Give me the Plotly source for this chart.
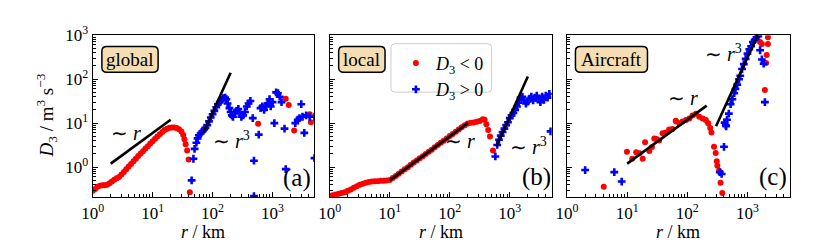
import plotly.graph_objects as go

# page body has an 8px default margin, so the figure is drawn 8px in from the top-left corner
OFF = 8
W, H = 830 - OFF, 244 - OFF

# ---------------- data ----------------
# panel (a) global
a_neg_r = [1.00, 1.10, 1.20, 1.32, 1.45, 1.58, 1.74, 1.91, 2.09, 2.29, 2.51, 2.75, 3.02, 3.31,
           3.63, 3.98, 4.37, 4.79, 5.25, 5.75, 6.31, 6.92, 7.59, 8.32, 9.12, 10.0, 11.0, 12.0,
           13.2, 14.5, 15.8, 17.4, 19.1, 20.9, 22.9, 25.1, 27.5, 30.2, 32.4, 33.9, 35.5, 37.6,
           39.8, 41.7,
           575, 1660, 1862, 2291, 4169, 4365]
a_neg_D = [0.29, 0.32, 0.36, 0.38, 0.39, 0.39, 0.40, 0.43, 0.47, 0.52, 0.56, 0.60, 0.68, 0.78,
           0.90, 1.03, 1.18, 1.36, 1.56, 1.80, 2.05, 2.30, 2.65, 3.0, 3.45, 3.9, 4.4, 5.0,
           5.6, 6.3, 7.0, 7.5, 7.9, 8.0, 8.0, 7.8, 7.3, 6.5, 5.4, 4.3, 3.3, 2.4,
           1.5, 0.27,
           9.7, 36, 26, 6.8, 16, 10.5]
a_pos_r = [44.7, 47.9, 50.1, 53.7, 56.2, 58.9, 63.1, 67.6, 72.4, 75.9, 81.3, 87.1, 93.3, 100,
           107, 115, 123, 132, 141, 151, 162, 170, 178, 191, 200, 209, 219, 234, 251, 269,
           282, 302, 324, 347, 372, 398, 427, 468, 490, 490, 589, 631, 676, 724, 776, 832,
           891, 933, 1000, 1072, 1148, 1230, 1318, 1413, 1585, 1660, 2399, 2630, 2818, 3020,
           3162, 3388, 3631, 4169, 5012, 5012]
a_pos_D = [0.5, 1.55, 2.6, 3.6, 4.5, 5.3, 5.8, 6.5, 7.2, 7.8, 9.0, 11, 13.5, 16,
           19, 23, 27, 30, 34, 37, 38, 35, 28, 22, 18, 15, 14, 17, 19, 21,
           17, 14, 15, 18, 24, 28, 32, 13, 1.4, 0.22, 5.5, 22, 24, 20, 25, 28,
           35, 24, 30, 10, 50, 48, 40, 30, 7.5, 0.9, 10, 12, 13, 27,
           14, 6, 15, 14, 14, 1.6]
a_lin_r, a_lin_D = [2, 20], [1.2, 12]
a_cub_r, a_cub_D = [70, 200], [6.0, 140]

# panel (b) local
b_neg_r = [1.00, 1.12, 1.26, 1.41, 1.58, 1.78, 2.00, 2.24, 2.51, 2.82, 3.16, 3.55, 3.98, 4.47,
           5.01, 5.62, 6.31, 7.08, 7.94, 8.91, 10.0, 11.2, 12.6, 14.1, 15.8, 17.8, 20.0, 22.4,
           25.1, 28.2, 31.6, 35.5, 39.8, 44.7, 50.1, 56.2, 63.1, 70.8, 79.4, 89.1, 100, 112,
           126, 141, 158, 178, 200, 224, 251, 282, 316, 355, 380, 407, 437, 468, 525]
b_neg_D = [0.22, 0.23, 0.24, 0.25, 0.26, 0.27, 0.29, 0.31, 0.34, 0.37, 0.40, 0.42, 0.44, 0.46,
           0.47, 0.48, 0.48, 0.49, 0.49, 0.50, 0.51, 0.57, 0.63, 0.71, 0.80, 0.90, 1.00, 1.13,
           1.27, 1.42, 1.6, 1.78, 2.0, 2.25, 2.5, 2.85, 3.2, 3.6, 4.0, 4.5, 5.1, 5.7,
           6.4, 7.2, 8.1, 9.0, 9.8, 10.2, 10.3, 10.8, 11.2, 12.3, 12.0, 9.5, 7.0, 5.0, 2.4]
b_pos_r = [575, 617, 661, 708, 759, 813, 871, 933, 1000, 1072, 1148, 1230, 1318, 1413, 1514,
           1622, 1738, 1862, 1995, 2138, 2291, 2455, 2630, 2818, 3020, 3236, 3467, 3715, 3981,
           4266, 4571, 4786]
b_pos_D = [1.75, 3.2, 4.2, 5.2, 6.3, 7.5, 9, 10.5, 13, 15, 17, 20, 24, 29, 38,
           40, 33, 28, 31, 36, 40, 33, 38, 42, 36, 30, 40, 34, 42,
           38, 46, 6.5]
b_lin_r, b_lin_D = [10, 200], [0.5, 10]
b_cub_r, b_cub_D = [600, 2000], [3.0, 115]

# panel (c) aircraft
c_neg_r = [4.07, 9.9, 12.1, 14.1, 16.0, 18.1, 19.8, 23.3, 25.8, 28.2, 30.8, 34.0, 38.7, 43.9,
           49.8, 56.6, 64.1, 65, 74, 83, 95, 108, 122, 139, 158, 180, 203, 222, 240, 252,
           278, 296, 309, 316, 337, 357, 382, 1622, 1738, 1950, 2042, 2089, 2188, 2188]
c_neg_D = [0.36, 2.25, 1.56, 2.18, 2.07, 1.56, 3.70, 2.33, 2.88, 4.5, 4.38, 4.02, 5.9, 6.1,
           7.2, 7.4, 11.4, 10.9, 10, 10.9, 11.8, 12.8, 15, 16.4, 13.9, 12.8, 11.8, 10, 7.8, 6.1,
           2.9, 2.1, 1.37, 1.07, 0.83, 0.44, 0.26, 700, 630, 57, 234, 355, 630, 900]
c_pos_r = [2.0, 6.1, 8.1, 347, 372, 407, 417, 437, 442, 457, 490, 525, 562, 603, 631, 676,
           724, 759, 813, 871, 933, 1000, 1072, 1148, 1230, 1318, 1413, 1514, 1622, 1738,
           1862, 1950]
c_pos_D = [0.86, 0.77, 0.47, 0.77, 0.70, 2.9, 10.3, 9.0, 8.5, 12, 16.5, 27, 35, 48, 60, 75,
           100, 120, 170, 220, 290, 380, 480, 560, 700, 780, 900, 950, 455, 280,
           225, 30]
c_lin_r, c_lin_D = [10, 210], [1.2, 25]
c_cub_r, c_cub_D = [300, 1480], [8.5, 1000]

x_tick_vals = [1, 10, 100, 1000]
x_tick_text = ["10<sup>0</sup>", "10<sup>1</sup>", "10<sup>2</sup>", "10<sup>3</sup>"]
y_tick_vals = [1, 10, 100, 1000]
y_tick_text = ["10<sup>0</sup>", "10<sup>1</sup>", "10<sup>2</sup>", "10<sup>3</sup>"]
minor_ticks = [m * 10 ** e for e in range(-1, 4) for m in range(2, 10)]

RED = "#ff0000"
BLUE = "#0000ff"
FONT = "Liberation Serif, Times New Roman, serif"

fig = go.Figure()

panels = [
    ("x", "y", a_neg_r, a_neg_D, a_pos_r, a_pos_D, a_lin_r, a_lin_D, a_cub_r, a_cub_D, False),
    ("x2", "y2", b_neg_r, b_neg_D, b_pos_r, b_pos_D, b_lin_r, b_lin_D, b_cub_r, b_cub_D, True),
    ("x3", "y3", c_neg_r, c_neg_D, c_pos_r, c_pos_D, c_lin_r, c_lin_D, c_cub_r, c_cub_D, False),
]
for xa, ya, nr, nd, pr, pd_, lr, ld, cr, cd, leg in panels:
    fig.add_trace(go.Scatter(x=nr, y=nd, mode="markers", xaxis=xa, yaxis=ya,
                             marker=dict(color=RED, size=6, symbol="circle", line=dict(width=0)),
                             name="<i>D</i><sub>3</sub> &lt; 0", showlegend=leg, legendrank=1))
    fig.add_trace(go.Scatter(x=pr, y=pd_, mode="markers", xaxis=xa, yaxis=ya,
                             marker=dict(color=BLUE, size=6.5, symbol="cross", line=dict(width=0)),
                             name="<i>D</i><sub>3</sub> &gt; 0", showlegend=leg, legendrank=2))
    fig.add_trace(go.Scatter(x=lr, y=ld, mode="lines", xaxis=xa, yaxis=ya,
                             line=dict(color="black", width=2.6), showlegend=False))
    fig.add_trace(go.Scatter(x=cr, y=cd, mode="lines", xaxis=xa, yaxis=ya,
                             line=dict(color="black", width=2.6), showlegend=False))


def px2paper(x, y):
    return (x - OFF) / W, 1 - (y - OFF) / H


domains_px = [(82.7, 307.5), (323, 548), (563.5, 789)]
ytop, ybot = 24, 195
ydom = [px2paper(0, ybot)[1], px2paper(0, ytop)[1]]

axis_common = dict(type="log", showline=True, linecolor="black", linewidth=1.2, mirror=True,
                   showgrid=False, zeroline=False, ticks="inside", ticklen=5, tickwidth=1,
                   tickcolor="black", tickmode="array",
                   tickfont=dict(family=FONT, size=17, color="black"))
layout_axes = {}
for i, (l, r) in enumerate(domains_px):
    sfx = "" if i == 0 else str(i + 1)
    layout_axes["xaxis" + sfx] = dict(
        axis_common, domain=[px2paper(l, 0)[0], px2paper(r, 0)[0]], range=[0, 3.7], anchor="y" + sfx,
        tickvals=x_tick_vals, ticktext=x_tick_text,
        minor=dict(ticks="inside", ticklen=3, tickcolor="black", tickwidth=0.8,
                   tickmode="array", tickvals=minor_ticks))
    layout_axes["yaxis" + sfx] = dict(
        axis_common, domain=ydom, range=[-0.69, 3], anchor="x" + sfx,
        tickvals=y_tick_vals, ticktext=y_tick_text, showticklabels=(i == 0),
        minor=dict(ticks="inside", ticklen=3, tickcolor="black", tickwidth=0.8,
                   tickmode="array", tickvals=minor_ticks))

lx, ly = px2paper(390, 34)
fig.update_layout(width=W, height=H, margin=dict(l=0, r=0, t=0, b=0),
                  paper_bgcolor="white", plot_bgcolor="white", **layout_axes,
                  legend=dict(x=lx, y=ly, xanchor="left", yanchor="top",
                              bgcolor="rgba(0,0,0,0)", borderwidth=0,
                              font=dict(family=FONT, size=18, color="black"),
                              itemwidth=30, tracegroupgap=0))


def rounded_rect(x0, y0, x1, y1, rad):
    rx, ry = rad / W, rad / H
    X0, Y0 = px2paper(x0, y0)
    X1, Y1 = px2paper(x1, y1)
    return (f"M {X0+rx},{Y0} L {X1-rx},{Y0} Q {X1},{Y0} {X1},{Y0-ry} "
            f"L {X1},{Y1+ry} Q {X1},{Y1} {X1-rx},{Y1} L {X0+rx},{Y1} "
            f"Q {X0},{Y1} {X0},{Y1+ry} L {X0},{Y0-ry} Q {X0},{Y0} {X0+rx},{Y0} Z")


shapes = []
annotations = []
boxes = [(92, 36, 149, 63, "global"), (332, 36, 379, 63, "local"), (572, 36, 645, 63, "Aircraft")]
for x0, y0, x1, y1, txt in boxes:
    shapes.append(dict(type="path", path=rounded_rect(x0, y0, x1, y1, 5), xref="paper", yref="paper",
                       fillcolor="#f5deb3", line=dict(color="black", width=1.5), layer="above"))
    cx, cy = px2paper((x0 + x1) / 2, (y0 + y1) / 2)
    annotations.append(dict(x=cx, y=cy, xref="paper", yref="paper", text=txt, showarrow=False,
                            xanchor="center", yanchor="middle",
                            font=dict(family=FONT, size=19, color="black")))
# legend frame
shapes.append(dict(type="path", path=rounded_rect(385, 33, 487, 84, 4), xref="paper", yref="paper",
                   fillcolor="rgba(255,255,255,0.8)", line=dict(color="#cccccc", width=1), layer="below"))

labels = [
    (116, 127, "∼ <i>r</i>", 20), (223, 134, "∼ <i>r</i><sup>3</sup>", 20),
    (455, 136, "∼ <i>r</i>", 20), (524, 141, "∼ <i>r</i><sup>3</sup>", 20),
    (681, 90, "∼ <i>r</i>", 20), (722, 43, "∼ <i>r</i><sup>3</sup>", 20),
    (290, 174, "(a)", 25), (533, 173, "(b)", 25), (772, 173, "(c)", 25),
    (195, 231, "<i>r</i> / km", 18), (435.5, 231, "<i>r</i> / km", 18), (676, 231, "<i>r</i> / km", 18),
]
for x, y, txt, size in labels:
    cx, cy = px2paper(x, y)
    annotations.append(dict(x=cx, y=cy, xref="paper", yref="paper", text=txt, showarrow=False,
                            xanchor="center", yanchor="middle",
                            font=dict(family=FONT, size=size, color="black")))
cx, cy = px2paper(36, 109)
annotations.append(dict(x=cx, y=cy, xref="paper", yref="paper", textangle=-90, showarrow=False,
                        text="<i>D</i><sub>3</sub> / m<sup>3</sup> s<sup>−3</sup>",
                        xanchor="center", yanchor="middle",
                        font=dict(family=FONT, size=19, color="black")))

fig.update_layout(shapes=shapes, annotations=annotations)
fig.write_html("out.html")
